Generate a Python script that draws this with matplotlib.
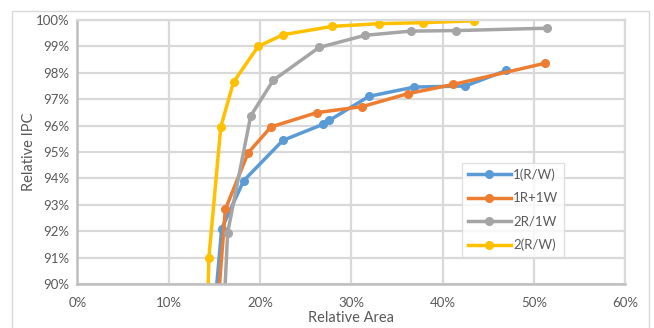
import matplotlib
matplotlib.use("Agg")
import matplotlib.pyplot as plt
from matplotlib.patches import Rectangle
from matplotlib.ticker import FuncFormatter

# Данные (Relative Area %, Relative IPC %)
blue_x = [14.0, 15.8, 18.2, 22.5, 26.9, 27.6, 31.95, 36.9, 42.5, 47.0]
blue_y = [85.0, 92.1, 93.91, 95.44, 96.05, 96.2, 97.11, 97.46, 97.5, 98.09]

orange_x = [14.0, 16.2, 18.7, 21.2, 26.2, 31.2, 36.2, 41.2, 51.2]
orange_y = [83.0, 92.83, 94.97, 95.95, 96.49, 96.72, 97.21, 97.56, 98.36]

gray_x = [15.5, 16.45, 18.98, 21.46, 26.47, 31.5, 36.55, 41.5, 51.5]
gray_y = [85.0, 91.94, 96.37, 97.72, 98.96, 99.42, 99.58, 99.6, 99.69]

yellow_x = [14.1, 14.4, 15.7, 17.1, 19.8, 22.5, 27.9, 33.0, 37.9, 43.4]
yellow_y = [87.0, 91.0, 95.95, 97.65, 99.0, 99.44, 99.76, 99.86, 99.9, 99.97]

labels = ["1(R/W)", "1R+1W", "2R/1W", "2(R/W)"]
colors = ["#5B9BD5", "#ED7D31", "#A5A5A5", "#FFC000"]

plt.rcParams['font.family'] = ['Lato', 'DejaVu Sans']

fig = plt.figure(figsize=(6.54, 3.28), dpi=100)
ax = fig.add_axes([0.1185, 0.134, 0.8372, 0.805])

# Рамка области диаграммы
fig.patches.append(Rectangle((12 / 654, -0.01), 637 / 654, 1 - 11 / 328 + 0.01,
                             transform=fig.transFigure, fill=False,
                             edgecolor="#D9D9D9", linewidth=1))

series = [(blue_x, blue_y), (orange_x, orange_y), (gray_x, gray_y), (yellow_x, yellow_y)]
for (xs, ys), lab, col in zip(series, labels, colors):
    ax.plot(xs, ys, color=col, linewidth=2.5, marker="o", markersize=5.5,
            label=lab, solid_joinstyle="round")

ax.set_xlim(0, 60)
ax.set_ylim(90, 100)
ax.set_xticks(range(0, 61, 10))
ax.set_yticks(range(90, 101))
ax.xaxis.set_major_formatter(FuncFormatter(lambda v, p: f"{v:.0f}%"))
ax.yaxis.set_major_formatter(FuncFormatter(lambda v, p: f"{v:.0f}%"))

ax.grid(True, color="#D9D9D9", linewidth=1.6)
ax.set_axisbelow(True)
for side in ["top", "right"]:
    ax.spines[side].set_color("#D9D9D9")
    ax.spines[side].set_linewidth(1.6)
for side in ["left", "bottom"]:
    ax.spines[side].set_color("#BFBFBF")
    ax.spines[side].set_linewidth(1.8)
ax.tick_params(axis="x", length=0, labelsize=9.5, labelcolor="#595959", pad=9)
ax.tick_params(axis="y", length=0, labelsize=9.5, labelcolor="#595959", pad=6)

ax.set_xlabel("Relative Area", fontsize=10.5, color="#595959", labelpad=2)
ax.set_ylabel("Relative IPC", fontsize=10.5, color="#595959", labelpad=0)

leg = ax.legend(loc="upper left", bbox_to_anchor=(0.703, 0.46), fontsize=9.5,
                frameon=True, fancybox=False, edgecolor="#D9D9D9",
                handlelength=3.2, handletextpad=0.2, labelspacing=0.85,
                borderpad=0.45, borderaxespad=0)
leg.get_frame().set_linewidth(1)
for t in leg.get_texts():
    t.set_color("#595959")

fig.savefig("out.png", dpi=100)
